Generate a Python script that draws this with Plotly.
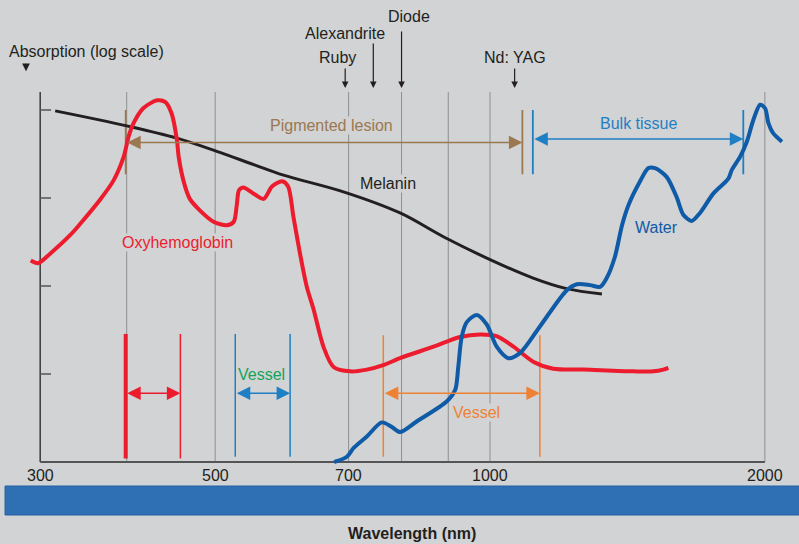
import numpy as np
import plotly.graph_objects as go

# ---------------------------------------------------------------------------
# Absorption spectra (relative absorption on a log scale) versus wavelength (nm)
# ---------------------------------------------------------------------------
oxy_nm = [314, 320, 330, 347, 356, 374, 387, 397, 402, 407, 417, 432, 441, 448,
          454, 456, 462, 469, 481, 498, 515, 524, 528, 531, 537, 549, 565, 577,
          592, 601, 609, 619, 630, 641, 657, 674, 703, 733, 764, 797, 867, 927,
          975, 1017, 1061, 1115, 1173, 1266, 1436, 1510, 1548, 1568]
oxy_abs = [2.29, 2.26, 2.37, 2.58, 2.71, 2.98, 3.20, 3.47, 3.70, 3.85, 4.02, 4.11,
           4.09, 3.96, 3.66, 3.47, 3.18, 2.99, 2.86, 2.73, 2.69, 2.73, 2.92, 3.09,
           3.12, 3.06, 2.99, 3.13, 3.19, 3.13, 2.79, 2.38, 1.99, 1.73, 1.31, 1.08,
           1.03, 1.05, 1.10, 1.18, 1.31, 1.42, 1.45, 1.43, 1.31, 1.14, 1.06, 1.05,
           1.03, 1.03, 1.05, 1.07]

melanin_nm = [334, 400, 454, 502, 551, 594, 691, 797, 889, 1000, 1115, 1213, 1326]
melanin_abs = [3.99, 3.82, 3.68, 3.53, 3.38, 3.26, 3.07, 2.83, 2.56, 2.30, 2.09, 1.97, 1.91]

water_nm = [675, 697, 709, 733, 761, 780, 797, 831, 897, 916, 923, 931, 943, 967,
            992, 1017, 1047, 1079, 1134, 1213, 1245, 1287, 1320, 1342, 1370, 1395,
            1418, 1460, 1491, 1516, 1561, 1601, 1628, 1663, 1698, 1756, 1824, 1840,
            1879, 1911, 1943, 1976, 2001, 2018, 2041, 2088]
water_abs = [0.0, 0.06, 0.16, 0.29, 0.45, 0.40, 0.34, 0.46, 0.69, 0.82, 1.08, 1.42,
             1.59, 1.67, 1.56, 1.31, 1.18, 1.24, 1.54, 1.95, 2.02, 2.01, 1.99, 2.09,
             2.33, 2.69, 2.92, 3.19, 3.34, 3.34, 3.24, 3.01, 2.81, 2.74, 2.83, 3.05,
             3.22, 3.32, 3.47, 3.64, 3.89, 4.06, 4.02, 3.85, 3.74, 3.64]

# Laser lines (nm)
laser_names = ["Ruby", "Alexandrite", "Diode", "Nd: YAG"]
laser_nm = [694, 745, 800, 1064]

# Treatment windows (nm)
window_names = ["Oxyhemoglobin", "Vessel", "Vessel", "Pigmented lesion", "Bulk tissue"]
window_lo = [399, 526, 764, 399, 1114]
window_hi = [458, 604, 1134, 1085, 1894]

# Axis
tick_labels = ["300", "500", "700", "1000", "2000"]
tick_nm = [500, 700, 1000, 2000]          # the first label sits at the axis origin
axis_origin_nm = 321.6
grid_nm = [400, 500, 700, 800, 900, 1000, 2000]
abs_ticks = [1, 2, 3, 4]

# ---------------------------------------------------------------------------
BG = "#d1d3d4"
INK = "#231f20"
RED = "#ec1c2e"
WATER = "#0f5ba7"
BROWN = "#9b7850"
ORANGE = "#ef8134"
SKY = "#1f7fc4"
GREEN = "#14a35a"
FONT = "Liberation Sans, Arial, Helvetica, sans-serif"

AXIS_TOP = 4.205
lg = np.log10

fig = go.Figure()


def segments(xs_pairs, ys_pairs, color, width):
    xs, ys = [], []
    for (xa, xb), (ya, yb) in zip(xs_pairs, ys_pairs):
        xs += [xa, xb, None]
        ys += [ya, yb, None]
    fig.add_trace(go.Scatter(x=xs, y=ys, mode="lines", hoverinfo="skip",
                             line=dict(color=color, width=width), showlegend=False))


# vertical grid
segments([(g, g) for g in grid_nm], [(0, AXIS_TOP)] * len(grid_nm), "#8e8f91", 1)

# axes
segments([(axis_origin_nm, axis_origin_nm)], [(0, AXIS_TOP)], "#3a3a3a", 1.5)
segments([(axis_origin_nm, 2000)], [(0, 0)], "#555555", 2)
segments([(axis_origin_nm, 330.5)] * len(abs_ticks), [(t, t) for t in abs_ticks], "#555555", 1.5)

# treatment window bounds
low_top, low_bot = 1.455, 0.04
high_top, high_bot = 4.0, 3.27
segments([(window_lo[0], window_lo[0])], [(low_bot, low_top)], RED, 4)
segments([(window_hi[0], window_hi[0])], [(low_bot, low_top)], RED, 1.5)
segments([(window_lo[1], window_lo[1]), (window_hi[1], window_hi[1])],
         [(0.06, low_top)] * 2, SKY, 1.5)
segments([(window_lo[2], window_lo[2]), (window_hi[2], window_hi[2])],
         [(0.06, 1.44)] * 2, ORANGE, 1.5)
segments([(window_lo[3], window_lo[3]), (window_hi[3], window_hi[3])],
         [(high_bot, high_top)] * 2, BROWN, 1.8)
segments([(window_lo[4], window_lo[4]), (window_hi[4], window_hi[4])],
         [(high_bot, high_top)] * 2, SKY, 1.8)

# spectra
fig.add_trace(go.Scatter(x=melanin_nm, y=melanin_abs, mode="lines", hoverinfo="skip",
                         line=dict(color=INK, width=3, shape="spline"), showlegend=False))
fig.add_trace(go.Scatter(x=oxy_nm, y=oxy_abs, mode="lines", hoverinfo="skip",
                         line=dict(color=RED, width=4, shape="spline", smoothing=0.8),
                         showlegend=False))
fig.add_trace(go.Scatter(x=water_nm, y=water_abs, mode="lines", hoverinfo="skip",
                         line=dict(color=WATER, width=4, shape="spline", smoothing=0.8),
                         showlegend=False))


def double_arrow(x0, x1, y, color):
    fig.add_annotation(x=lg(x1), y=y, ax=lg(x0), ay=y, xref="x", yref="y",
                       axref="x", ayref="y", text="", showarrow=True,
                       arrowhead=2, startarrowhead=2, arrowside="end+start",
                       arrowsize=1.8, startarrowsize=1.8, arrowwidth=1.5,
                       arrowcolor=color, standoff=0, startstandoff=0)


double_arrow(window_lo[0], window_hi[0], 0.78, RED)
double_arrow(window_lo[1], window_hi[1], 0.78, SKY)
double_arrow(window_lo[2], window_hi[2], 0.78, ORANGE)
double_arrow(window_lo[3], window_hi[3], 3.63, BROWN)
double_arrow(window_lo[4], window_hi[4], 3.67, SKY)


def label(text, nm, y, color=INK, bg=None, size=16, bold=False, anchor="center"):
    fig.add_annotation(x=lg(nm), y=y, xref="x", yref="y", text=f"<b>{text}</b>" if bold else text,
                       showarrow=False, xanchor=anchor, yanchor="middle",
                       font=dict(family=FONT, size=size, color=color),
                       bgcolor=bg, borderpad=0)


# laser markers
laser_tail_px = [-21, -46, -58, -21]
laser_label_y = [4.60, 4.875, 5.057, 4.60]
laser_label_nm = [680, 693, 815, 1064]
for name, nm, tail, ly, lnm in zip(laser_names, laser_nm, laser_tail_px, laser_label_y, laser_label_nm):
    fig.add_annotation(x=lg(nm), y=4.25, xref="x", yref="y", ax=0, ay=tail, text="",
                       showarrow=True, arrowhead=2, arrowsize=1.1, arrowwidth=1.2,
                       arrowcolor=INK, standoff=0)
    label(name, lnm, ly)

# y axis caption with its small pointer
label("Absorption (log scale)", 296.6, 4.66, anchor="left")
fig.add_annotation(x=lg(310.3), y=4.44, xref="x", yref="y", ax=0, ay=-9, text="",
                   showarrow=True, arrowhead=2, arrowsize=1.3, arrowwidth=1.2,
                   arrowcolor=INK, standoff=0)

# curve and window labels
label("Oxyhemoglobin", 455, 2.50, RED, BG)
label("Melanin", 773, 3.16, INK, BG)
label("Water", 1520, 2.66, WATER, BG)
label("Pigmented lesion", 671, 3.82, BROWN, BG)
label("Bulk tissue", 1453, 3.85, SKY, BG)
label("Vessel", 562, 0.99, GREEN, BG)
label("Vessel", 967, 0.557, ORANGE, BG)

# wavelength tick labels
for txt, nm in zip(tick_labels, [axis_origin_nm] + tick_nm):
    label(txt, nm, -0.148)

label("Wavelength (nm)", 821.5, -0.818, bold=True)

# spectrum band under the axis
fig.add_shape(type="rect", xref="paper", yref="paper", x0=0.0063, x1=1.01,
              y0=0.0533, y1=0.1066, fillcolor="#2f70b4",
              line=dict(color="#2560a5", width=1), layer="below")

fig.update_layout(
    width=799, height=544,
    margin=dict(l=0, r=0, t=0, b=0),
    paper_bgcolor=BG, plot_bgcolor=BG,
    xaxis=dict(type="log", range=[2.4633, 3.3384], visible=False, fixedrange=True),
    yaxis=dict(range=[-82 / 88, 462 / 88], visible=False, fixedrange=True),
    showlegend=False,
)

fig.write_html("out.html")
